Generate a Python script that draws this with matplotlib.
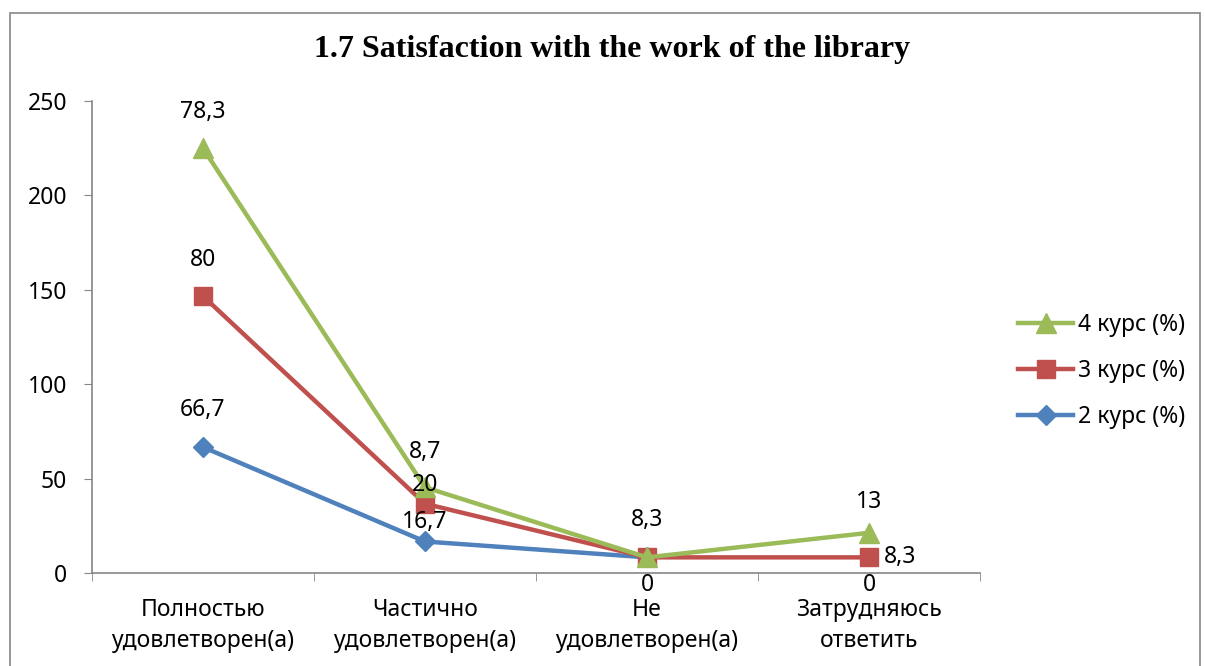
import numpy as np
import matplotlib
matplotlib.use('Agg')
import matplotlib.pyplot as plt
from matplotlib.patches import Rectangle

# categories and series (stacked line chart, values in %)
categories = ['Полностью\nудовлетворен(а)', 'Частично\nудовлетворен(а)',
              'Не\nудовлетворен(а)', 'Затрудняюсь\nответить']
course2 = [66.7, 16.7, 8.3, None]   # blank cell in the last category
course3 = [80, 20, 0, 8.3]
course4 = [78.3, 8.7, 0, 13]
series_names = ['2 курс (%)', '3 курс (%)', '4 курс (%)']

plt.rcParams['font.family'] = ['Noto Sans', 'DejaVu Sans']
FS = 16.5

fig = plt.figure(figsize=(12.05, 6.66), dpi=100)
ax = fig.add_axes([0.0763, 0.1396, 0.737, 0.7087])

# outer frame of the chart
fig.patches.append(Rectangle((0.008, -0.01), 0.988, 0.99, transform=fig.transFigure,
                             fill=False, ec='#868686', lw=1.2))

x = np.arange(len(categories))
b = np.array([np.nan if v is None else v for v in course2], dtype=float)
r = np.nan_to_num(b) + np.array(course3, dtype=float)
g = r + np.array(course4, dtype=float)

colors = ['#4F81BD', '#C0504D', '#9BBB59']
markers = ['D', 's', '^']
msizes = [10, 13, 14]
stacks = [b, r, g]
raw = [course2, course3, course4]

# label offsets in pixels (dx, dy); None = not shown
offsets = [
    [(0, 37), (0, 19), (0, 37), (0, -12)],
    [(0, 36), (0, 19), (0, -28), (15, 0)],
    [(0, 36), (0, 35), None, (0, 31)],
]

handles = []
for i in range(3):
    h, = ax.plot(x, stacks[i], color=colors[i], lw=3.2, marker=markers[i],
                 ms=msizes[i], label=series_names[i], zorder=3 + i)
    handles.append(h)
    for j in range(len(x)):
        off = offsets[i][j]
        if off is None:
            continue
        yv = stacks[i][j] if not np.isnan(stacks[i][j]) else 0
        val = raw[i][j]
        txt = '0' if val is None else f'{val:g}'.replace('.', ',')
        ax.annotate(txt, (x[j], yv), xytext=off, textcoords='offset pixels',
                    ha='left' if off[0] > 0 else 'center', va='center',
                    fontsize=FS, zorder=10)

ax.set_xlim(-0.5, 3.5)
ax.set_ylim(0, 250)
ax.set_yticks(range(0, 251, 50))
ax.set_xticks(x)
ax.set_xticklabels(categories, fontsize=FS, linespacing=1.4)
ax.set_xticks(np.arange(-0.5, 4, 1), minor=True)
ax.tick_params(axis='x', which='major', length=0, pad=18)
ax.tick_params(axis='x', which='minor', length=6, color='#868686', direction='out')
ax.tick_params(axis='y', length=6, color='#868686', labelsize=FS, pad=12)
for s in ['top', 'right']:
    ax.spines[s].set_visible(False)
for s in ['left', 'bottom']:
    ax.spines[s].set_color('#868686')
    ax.spines[s].set_linewidth(1.2)

fig.text(0.508, 0.925, '1.7 Satisfaction with the work of the library',
         ha='center', va='center', fontsize=23, fontweight='bold',
         family='Liberation Serif')

fig.legend(handles[::-1], [h.get_label() for h in handles[::-1]],
           loc='center left', bbox_to_anchor=(1018 / 1205, 1 - 371 / 666),
           bbox_transform=fig.transFigure, frameon=False, borderpad=0,
           borderaxespad=0, fontsize=FS, handlelength=2.4, labelspacing=0.95,
           handletextpad=0.2)

fig.savefig('out.png', dpi=100)
